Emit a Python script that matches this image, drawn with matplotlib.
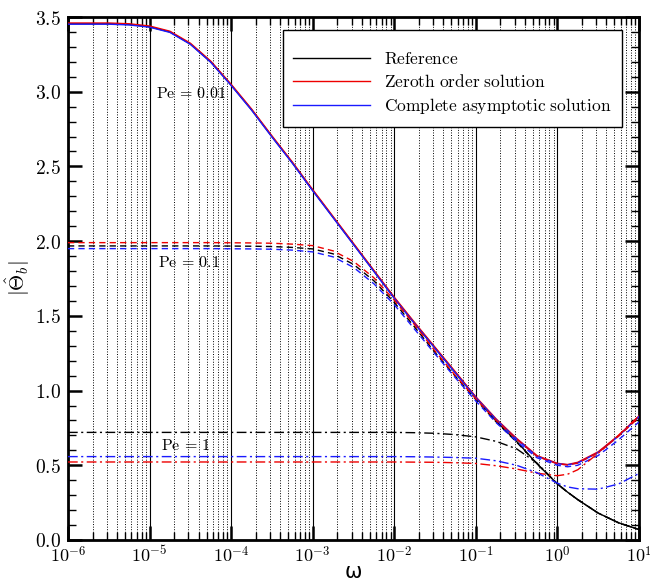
import matplotlib
matplotlib.use('Agg')
import matplotlib.pyplot as plt
import numpy as np
from matplotlib.ticker import FixedLocator, FuncFormatter, MultipleLocator

plt.rcParams['mathtext.fontset'] = 'cm'

# log10(omega) sample points
log_w = [-6, -5.5, -5.25, -5, -4.75, -4.5, -4.25, -4, -3.75, -3.5, -3.25, -3,
         -2.75, -2.5, -2.25, -2, -1.75, -1.5, -1.25, -1, -0.75, -0.5, -0.25,
         0, 0.125, 0.25, 0.5, 0.75, 1]

# Pe = 0.01 (solid)
ref_001 = [3.455, 3.455, 3.45, 3.435, 3.40, 3.32, 3.20, 3.045, 2.88, 2.70, 2.525, 2.34,
           2.16, 1.98, 1.80, 1.62, 1.45, 1.285, 1.12, 0.955, 0.795, 0.66, 0.51,
           0.375, 0.32, 0.27, 0.18, 0.115, 0.07]
zero_001 = [3.46, 3.46, 3.455, 3.44, 3.405, 3.325, 3.205, 3.05, 2.885, 2.705, 2.53, 2.345,
            2.165, 1.985, 1.805, 1.625, 1.455, 1.29, 1.125, 0.958, 0.81, 0.68, 0.565,
            0.513, 0.505, 0.52, 0.59, 0.70, 0.83]
full_001 = [3.452, 3.452, 3.447, 3.432, 3.397, 3.317, 3.197, 3.042, 2.877, 2.697, 2.522, 2.337,
            2.157, 1.977, 1.797, 1.617, 1.447, 1.282, 1.117, 0.953, 0.805, 0.675, 0.56,
            0.51, 0.503, 0.515, 0.585, 0.695, 0.825]

# Pe = 0.1 (dashed)
ref_01 = [1.968, 1.968, 1.968, 1.968, 1.968, 1.968, 1.968, 1.967, 1.966, 1.964, 1.958, 1.948,
          1.915, 1.845, 1.735, 1.59, 1.425, 1.255, 1.095, 0.94, 0.79, 0.655, 0.51,
          0.375, 0.32, 0.27, 0.18, 0.115, 0.07]
zero_01 = [1.99, 1.99, 1.99, 1.99, 1.99, 1.99, 1.99, 1.989, 1.988, 1.986, 1.98, 1.97,
           1.935, 1.865, 1.755, 1.605, 1.44, 1.265, 1.10, 0.945, 0.80, 0.675, 0.56,
           0.51, 0.502, 0.515, 0.585, 0.695, 0.82]
full_01 = [1.95, 1.95, 1.95, 1.95, 1.95, 1.95, 1.95, 1.949, 1.948, 1.946, 1.94, 1.928,
           1.895, 1.825, 1.715, 1.575, 1.41, 1.245, 1.085, 0.93, 0.785, 0.66, 0.55,
           0.50, 0.49, 0.50, 0.565, 0.67, 0.79]

# Pe = 1 (dash-dot)
ref_1 = [0.72, 0.72, 0.72, 0.72, 0.72, 0.72, 0.72, 0.72, 0.72, 0.72, 0.72, 0.72,
         0.72, 0.72, 0.72, 0.72, 0.718, 0.714, 0.705, 0.69, 0.66, 0.61, 0.515,
         0.375, 0.32, 0.27, 0.18, 0.115, 0.07]
zero_1 = [0.522, 0.522, 0.522, 0.522, 0.522, 0.522, 0.522, 0.522, 0.522, 0.522, 0.522, 0.522,
          0.522, 0.522, 0.522, 0.522, 0.521, 0.52, 0.517, 0.512, 0.497, 0.475, 0.447,
          0.43, 0.44, 0.47, 0.58, 0.70, 0.83]
full_1 = [0.558, 0.558, 0.558, 0.558, 0.558, 0.558, 0.558, 0.558, 0.558, 0.558, 0.558, 0.558,
          0.558, 0.558, 0.558, 0.558, 0.557, 0.555, 0.552, 0.547, 0.53, 0.50, 0.45,
          0.38, 0.355, 0.343, 0.34, 0.375, 0.445]

pe_labels = [r'$\mathrm{Pe}\,=\,0.01$', r'$\mathrm{Pe}\,=\,0.1$', r'$\mathrm{Pe}\,=\,1$']
pe_label_pos = [(1.2e-5, 2.985), (1.26e-5, 1.859), (1.4e-5, 0.629)]

C_REF = 'black'
C_ZERO = '#ee0000'
C_FULL = '#1a1aff'
DASH = (0, (4.5, 3))
DASHDOT = (0, (7, 2.5, 1.5, 2.5))

w = np.power(10.0, log_w)

fig = plt.figure(figsize=(6.5, 5.83), dpi=100)
ax = fig.add_axes([0.1046, 0.0738, 0.8784, 0.897])

ax.set_xscale('log')
ax.set_xlim(1e-6, 10)
ax.set_ylim(0, 3.5)

ax.grid(True, which='major', axis='x', color='black', lw=0.8, ls='-', zorder=0)
ax.grid(True, which='minor', axis='x', color='black', lw=0.7, ls=':', zorder=0)

lw = 1.0
for ref, zero, full, ls in [(ref_001, zero_001, full_001, '-'),
                            (ref_01, zero_01, full_01, DASH),
                            (ref_1, zero_1, full_1, DASHDOT)]:
    ax.plot(w, ref, color=C_REF, ls=ls, lw=lw, zorder=3)
    ax.plot(w, zero, color=C_ZERO, ls=ls, lw=lw, zorder=3)
    ax.plot(w, full, color=C_FULL, ls=ls, lw=lw, zorder=3)

# legend proxies
ax.plot([], [], color=C_REF, lw=lw, label=r'$\mathrm{Reference}$')
ax.plot([], [], color=C_ZERO, lw=lw, label=r'$\mathrm{Zeroth\ order\ solution}$')
ax.plot([], [], color=C_FULL, lw=lw, label=r'$\mathrm{Complete\ asymptotic\ solution}$')

for txt, (x, y) in zip(pe_labels, pe_label_pos):
    ax.text(x, y, txt, fontsize=11.5, va='center', ha='left', zorder=4)

ax.xaxis.set_major_locator(FixedLocator([10.0 ** k for k in range(-6, 2)]))
ax.xaxis.set_major_formatter(FuncFormatter(lambda v, p: r'$10^{%d}$' % round(np.log10(v))))
ax.yaxis.set_major_locator(MultipleLocator(0.5))
ax.yaxis.set_minor_locator(MultipleLocator(0.1))
ax.yaxis.set_major_formatter(FuncFormatter(lambda v, p: r'$%.1f$' % v))

ax.tick_params(which='both', direction='in', top=True, right=True)
ax.tick_params(axis='y', labelsize=14, pad=5)
ax.tick_params(axis='x', labelsize=13, pad=4)
ax.tick_params(which='major', length=10, width=1.8)
ax.tick_params(which='minor', length=6, width=1.0)
for s in ax.spines.values():
    s.set_linewidth(2.0)

ax.set_xlabel('ω', fontsize=15, family='DejaVu Sans', labelpad=-3)
ax.set_ylabel(r'$|\hat{\Theta}_b|$', fontsize=15, labelpad=2)

leg = ax.legend(loc='upper right', bbox_to_anchor=(0.986, 0.991), fontsize=12.5,
                handlelength=4.4, handletextpad=0.85, frameon=True, fancybox=False,
                framealpha=1, edgecolor='black', borderpad=0.6, labelspacing=0.3,
                title=' ', title_fontsize=3)
leg.get_frame().set_linewidth(1.0)
leg.set_zorder(5)

fig.savefig('out.png', dpi=100)
